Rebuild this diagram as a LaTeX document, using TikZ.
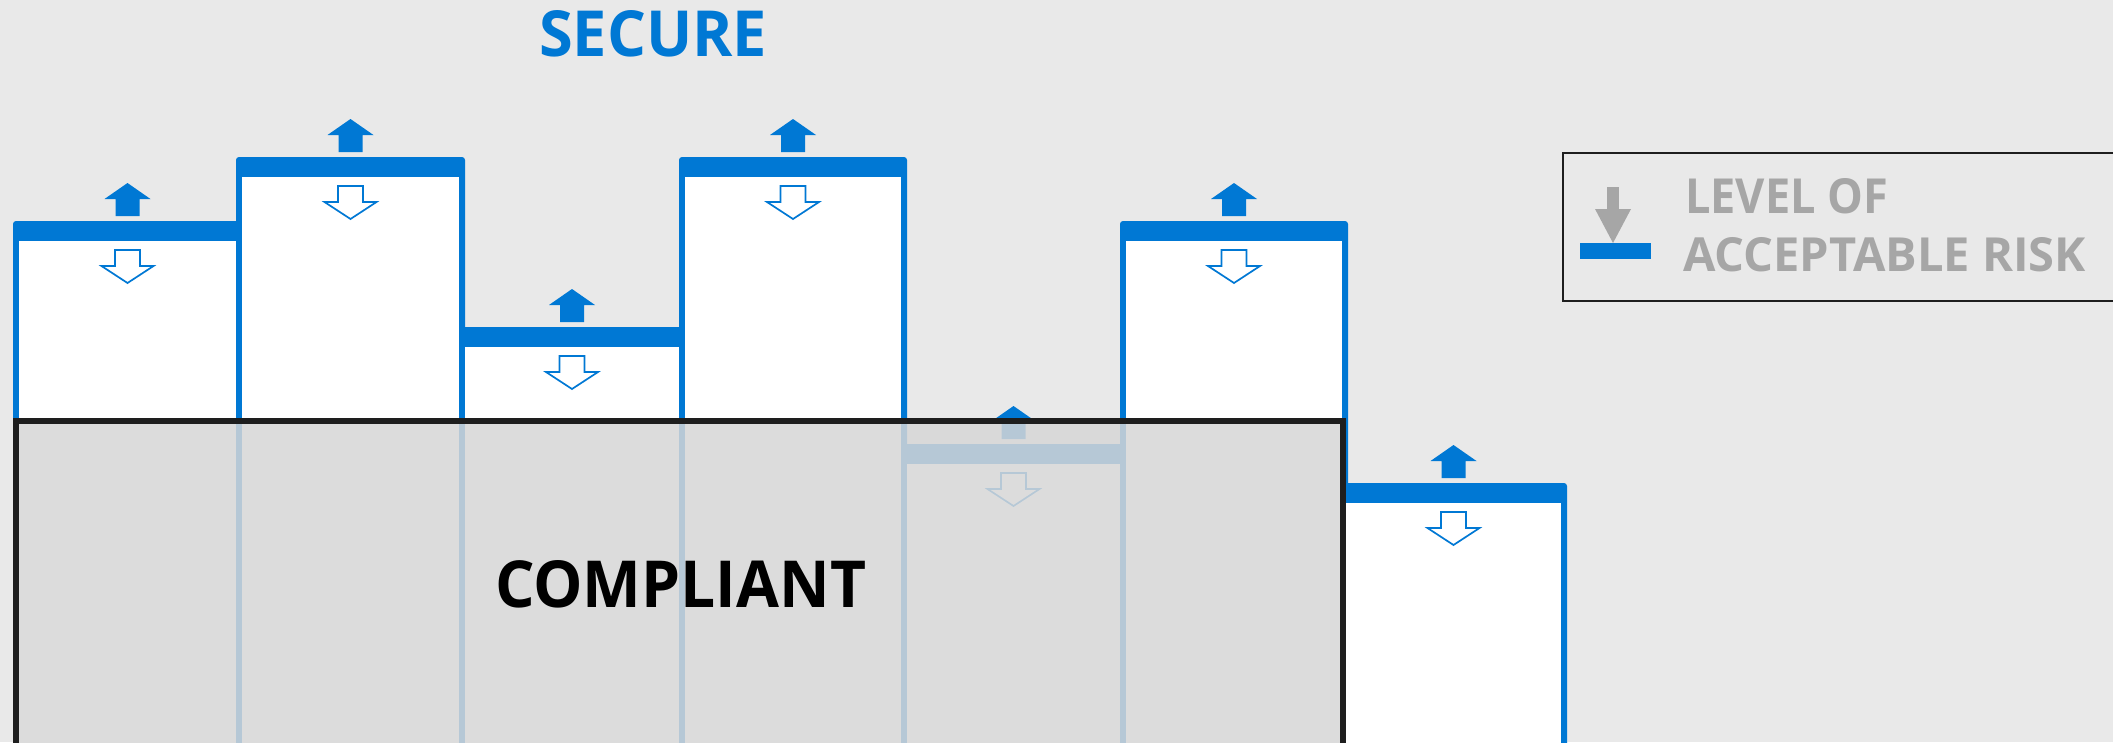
\documentclass[tikz,border=0pt]{standalone}
\usepackage{graphicx}
\usepackage{fontspec}
\newfontfamily\osfont{Open Sans}
\definecolor{msblue}{HTML}{0078D4}
\definecolor{bggray}{HTML}{E9E9E9}
\definecolor{compgray}{HTML}{D7D7D7}
\definecolor{edgeblack}{HTML}{1E1E1E}
\definecolor{leggray}{HTML}{A6A6A6}
\newcommand{\riskbox}[4]{%
  \fill[msblue, rounded corners=3pt] (#1,#3) rectangle (#2,770);
  \fill[white] ({#1+6},{#3+20}) rectangle ({#2-6},770);
  \pgfmathsetmacro\cx{(#1+#2)/2}
  \coordinate (#4) at (\cx,#3);
  \fill[msblue] (\cx,{#3-38}) -- ({\cx+23},{#3-22}) -- ({\cx+12},{#3-22}) -- ({\cx+12},{#3-5})
     -- ({\cx-12},{#3-5}) -- ({\cx-12},{#3-22}) -- ({\cx-23},{#3-22}) -- cycle;
  \draw[msblue, line width=1.7pt, line join=miter] ({\cx-12.5},{#3+29}) -- ({\cx+12.5},{#3+29})
     -- ({\cx+12.5},{#3+45}) -- ({\cx+26},{#3+45}) -- (\cx,{#3+62}) -- ({\cx-26},{#3+45})
     -- ({\cx-12.5},{#3+45}) -- cycle;
}
\tikzset{label text/.style={inner sep=0pt, outer sep=0pt, anchor=base west}}
\begin{document}
\begin{tikzpicture}[x=1pt,y=-1pt]
\useasboundingbox (0,0) rectangle (2113,742);
\fill[bggray] (0,0) rectangle (2113,742);
\begin{scope}
\clip (0,0) rectangle (2113,742);
% boxes
\riskbox{13}{242}{221}{b1}
\riskbox{236}{465}{157}{b2}
\riskbox{459}{685}{327}{b3}
\riskbox{679}{907}{157}{b4}
\riskbox{901}{1126}{444}{b5}
\riskbox{1120}{1348}{221}{b6}
\riskbox{1340}{1567}{483}{b7}
% compliant overlay
\path[fill=compgray, fill opacity=0.85] (16,421) rectangle (1343,770);
\draw[edgeblack, line width=6pt] (16,770) -- (16,421) -- (1343,421) -- (1343,770);
\node[label text] (compliant) at (495,607) {\resizebox{371pt}{47pt}{\osfont\bfseries COMPLIANT}};
% title
\node[label text, text=msblue] (secure) at (539,56) {\resizebox{228pt}{46pt}{\osfont\bfseries SECURE}};
% legend
\draw[edgeblack, line width=1.5pt] (1563,153) rectangle (2130,301);
\fill[leggray] (1607,187) rectangle (1619,210);
\fill[leggray] (1595,209) -- (1631,209) -- (1613,243) -- cycle;
\fill[msblue] (1580,243) rectangle (1651,259);
\node[label text, text=leggray] (lvl) at (1685,213) {\resizebox{203pt}{35pt}{\osfont\bfseries LEVEL OF}};
\node[label text, text=leggray] (risk) at (1683,271) {\resizebox{403pt}{34pt}{\osfont\bfseries ACCEPTABLE RISK}};
\end{scope}
\end{tikzpicture}
\end{document}
